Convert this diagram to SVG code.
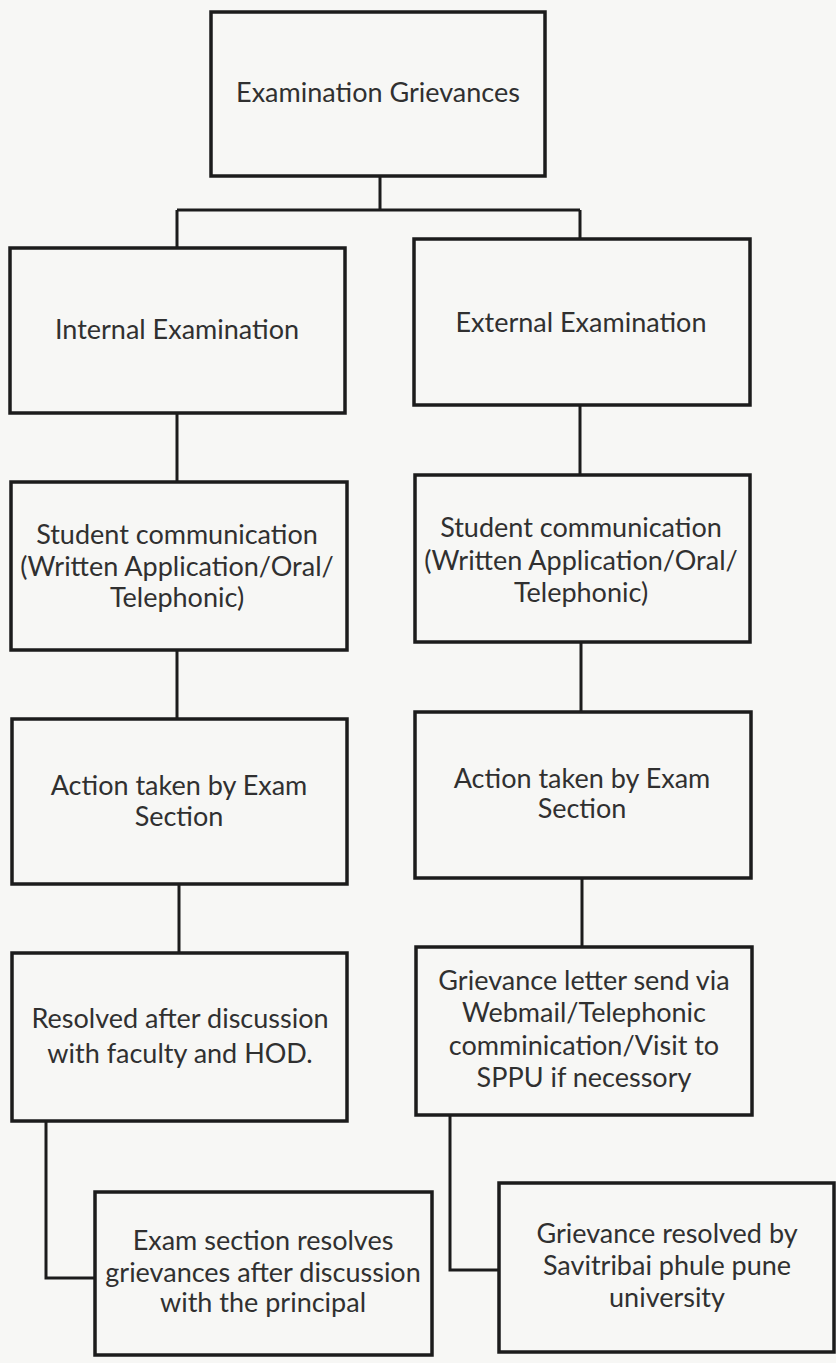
<svg xmlns="http://www.w3.org/2000/svg" width="836" height="1363" viewBox="0 0 836 1363">
<style>
.box{fill:none;stroke:#1c1c1c;stroke-width:3.5}
.conn{fill:none;stroke:#1c1c1c;stroke-width:3}
text{font-family:Lato,"Open Sans","Liberation Sans",sans-serif;font-size:27px;fill:#303030;text-anchor:middle}
</style>
<rect width="836" height="1363" fill="#f7f7f5"/>
<g id="connectors">
<path class="conn" d="M380 176V210M177 210H580M177 210V248M580 210V239"/>
<path class="conn" d="M177 413V482M177 650V719M179 884V953"/>
<path class="conn" d="M580 405V475M581 642V712M582 878V947"/>
<path class="conn" d="M46 1121V1278H95"/>
<path class="conn" d="M450 1115V1270H499"/>
</g>
<g id="n-top"><rect class="box" x="211" y="12" width="334" height="164"/><text x="378" y="102">Examination Grievances</text></g>
<g id="n-internal"><rect class="box" x="10" y="248" width="335" height="165"/><text x="177" y="339">Internal Examination</text></g>
<g id="n-external"><rect class="box" x="414" y="239" width="336" height="166"/><text x="581" y="332">External Examination</text></g>
<g id="n-int-comm"><rect class="box" x="11" y="482" width="336" height="168"/><text x="177" y="544">Student communication</text><text x="177" y="576">(Written Application/Oral/</text><text x="177" y="607">Telephonic)</text></g>
<g id="n-ext-comm"><rect class="box" x="415" y="475" width="335" height="167"/><text x="581" y="537">Student communication</text><text x="581" y="570">(Written Application/Oral/</text><text x="581" y="602">Telephonic)</text></g>
<g id="n-int-action"><rect class="box" x="12" y="719" width="335" height="165"/><text x="179" y="795">Action taken by Exam</text><text x="179" y="826">Section</text></g>
<g id="n-ext-action"><rect class="box" x="415" y="712" width="336" height="166"/><text x="582" y="788">Action taken by Exam</text><text x="582" y="818">Section</text></g>
<g id="n-int-resolved"><rect class="box" x="12" y="953" width="335" height="168"/><text x="180" y="1028">Resolved after discussion</text><text x="180" y="1063">with faculty and HOD.</text></g>
<g id="n-ext-letter"><rect class="box" x="416" y="947" width="336" height="168"/><text x="584" y="990">Grievance letter send via</text><text x="584" y="1022">Webmail/Telephonic</text><text x="584" y="1055">comminication/Visit to</text><text x="584" y="1087">SPPU if necessory</text></g>
<g id="n-int-principal"><rect class="box" x="95" y="1192" width="337" height="163"/><text x="263" y="1250">Exam section resolves</text><text x="263" y="1282">grievances after discussion</text><text x="263" y="1312">with the principal</text></g>
<g id="n-ext-sppu"><rect class="box" x="499" y="1183" width="335" height="169"/><text x="667" y="1243">Grievance resolved by</text><text x="667" y="1275">Savitribai phule pune</text><text x="667" y="1307">university</text></g>
</svg>
